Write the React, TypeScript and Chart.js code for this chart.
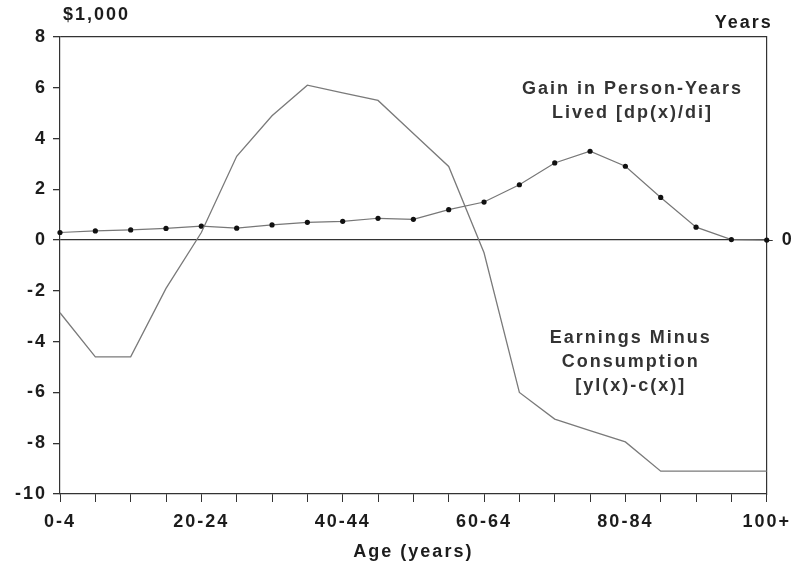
import { useEffect, useRef } from 'react';
import { Chart, registerables } from 'chart.js';

Chart.register(...registerables);

const ageGroups = ['0-4', '5-9', '10-14', '15-19', '20-24', '25-29', '30-34', '35-39', '40-44', '45-49', '50-54', '55-59', '60-64', '65-69', '70-74', '75-79', '80-84', '85-89', '90-94', '95-99', '100+'];
const earningsMinusConsumption = [-2.86, -4.6, -4.6, -1.9, 0.3, 3.3, 4.9, 6.1, 5.8, 5.5, 4.2, 2.9, -0.5, -6.0, -7.05, -7.5, -7.95, -9.1, -9.1, -9.1, -9.1];
const gainPersonYears = [0.3, 0.36, 0.4, 0.46, 0.55, 0.47, 0.6, 0.7, 0.74, 0.86, 0.82, 1.2, 1.5, 2.18, 3.04, 3.5, 2.91, 1.68, 0.51, 0.02, 0];
const labeledAges = ['0-4', '20-24', '40-44', '60-64', '80-84', '100+'];
const rightTicks = [0];
const gainLabel = ['Gain in Person-Years', 'Lived [dp(x)/di]'];
const earningsLabel = ['Earnings Minus', 'Consumption', '[yl(x)-c(x)]'];
const leftUnit = '$1,000';
const rightUnit = 'Years';
const xTitle = 'Age (years)';

const FONT = '"Liberation Sans", Arial, sans-serif';
const INK = '#1c1c1c';

const textPlugin = {
  id: 'textPlugin',
  beforeDraw(chart: any) {
    chart.ctx.letterSpacing = '2px';
  },
  afterDraw(chart: any) {
    const ctx = chart.ctx;
    const x = chart.scales.x;
    const y = chart.scales.y;
    const area = chart.chartArea;
    ctx.save();
    ctx.letterSpacing = '2px';
    ctx.font = `bold 18px ${FONT}`;
    ctx.fillStyle = INK;
    ctx.textBaseline = 'middle';
    ctx.textAlign = 'left';
    ctx.fillText(leftUnit, area.left + 3, 15);
    ctx.textAlign = 'right';
    ctx.fillText(rightUnit, area.right + 6, 23);

    ctx.fillStyle = '#333';
    ctx.textAlign = 'center';
    const gx = x.getPixelForValue(16.2);
    const gy = y.getPixelForValue(5.95);
    gainLabel.forEach((t, i) => ctx.fillText(t, gx, gy + i * 24));
    const ex = x.getPixelForValue(16.15);
    const ey = y.getPixelForValue(-3.85);
    earningsLabel.forEach((t, i) => ctx.fillText(t, ex, ey + i * 24));
    ctx.restore();
  },
};

export default function App() {
  const ref = useRef<HTMLCanvasElement>(null);
  useEffect(() => {
    if (!ref.current) return;
    const chart = new Chart(ref.current, {
      type: 'line',
      data: {
        labels: ageGroups,
        datasets: [
          {
            label: 'Earnings Minus Consumption',
            data: earningsMinusConsumption,
            borderColor: '#7a7a7a',
            borderWidth: 1.3,
            pointRadius: 0,
            tension: 0,
            yAxisID: 'y',
          },
          {
            label: 'Gain in Person-Years Lived',
            data: gainPersonYears,
            borderColor: '#777',
            borderWidth: 1.2,
            pointRadius: 2.6,
            pointBackgroundColor: '#111',
            pointBorderColor: '#111',
            pointBorderWidth: 0,
            tension: 0,
            yAxisID: 'y1',
          },
        ],
      },
      options: {
        responsive: false,
        animation: false,
        layout: { padding: { top: 37, left: 0, right: 0, bottom: 0 } },
        plugins: { legend: { display: false }, tooltip: { enabled: false } },
        scales: {
          x: {
            type: 'category',
            offset: false,
            border: { display: true, color: '#333', width: 1.2 },
            grid: { drawOnChartArea: false, drawTicks: true, tickLength: 8, color: '#333', tickColor: '#333' },
            ticks: {
              autoSkip: false,
              maxRotation: 0,
              minRotation: 0,
              padding: 9,
              color: INK,
              font: { family: FONT, size: 18, weight: 'bold' },
              callback: (_v: any, i: number) => (labeledAges.includes(ageGroups[i]) ? ageGroups[i] : ''),
            },
            title: {
              display: true,
              text: xTitle,
              color: INK,
              font: { family: FONT, size: 18, weight: 'bold' },
              padding: { top: 0, bottom: 4 },
            },
            afterFit: (s: any) => { s.height = 73; },
          },
          y: {
            position: 'left',
            min: -10,
            max: 8,
            border: { display: true, color: '#333', width: 1.2 },
            grid: {
              drawTicks: true,
              tickLength: 7,
              tickColor: '#333',
              lineWidth: 1.3,
              color: (c: any) => (c.tick && (c.tick.value === 0 || c.tick.value === 8) ? '#333' : 'rgba(0,0,0,0)'),
            },
            ticks: {
              stepSize: 2,
              padding: 6,
              color: INK,
              font: { family: FONT, size: 18, weight: 'bold' },
            },
            afterFit: (s: any) => { s.width = 60; },
          },
          y1: {
            position: 'right',
            min: -10,
            max: 8,
            border: { display: true, color: '#333', width: 1.2 },
            grid: { drawOnChartArea: false, drawTicks: true, tickLength: 6, color: '#333', tickColor: '#333' },
            ticks: {
              padding: 9,
              color: INK,
              font: { family: FONT, size: 18, weight: 'bold' },
            },
            afterBuildTicks: (s: any) => { s.ticks = rightTicks.map((v) => ({ value: v })); },
            afterFit: (s: any) => { s.width = 28; },
          },
        },
      },
      plugins: [textPlugin],
    });
    return () => chart.destroy();
  }, []);
  return (
    <canvas
      ref={ref}
      width={796}
      height={567}
      style={{ position: 'absolute', left: 0, top: 0, display: 'block', background: '#fff' }}
    />
  );
}
